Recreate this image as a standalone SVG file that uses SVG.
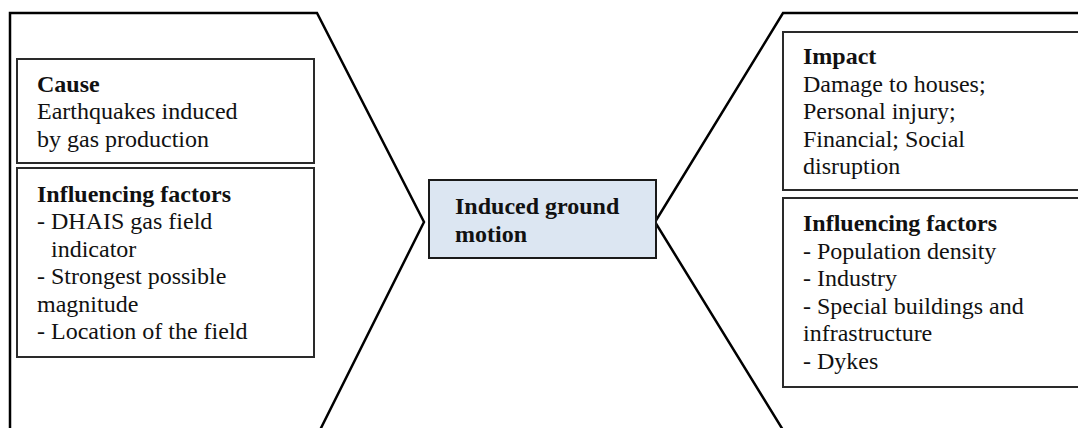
<svg xmlns="http://www.w3.org/2000/svg" width="1078" height="428" viewBox="0 0 1078 428">
<style>
.outer{fill:none;stroke:#000;stroke-width:2.5;stroke-linejoin:miter}
.box{fill:#fff;stroke:#2a2a2a;stroke-width:2}
.t{font-family:"Liberation Serif","Times New Roman",serif;font-size:24px;fill:#111}
.b{font-weight:bold}
</style>
<rect width="1078" height="428" fill="#fff"/>
<g id="connectors">
<polyline class="outer" points="10,430 10,13 317,13 424,222 320,430"/>
<polyline class="outer" points="1080,13 783,13 655,222 783,430"/>
</g>
<g id="cause">
<rect class="box" x="17" y="59" width="297" height="104"/>
<text class="t b" x="37" y="92">Cause</text>
<text class="t" x="37" y="119.4">Earthquakes induced</text>
<text class="t" x="37" y="146.8">by gas production</text>
</g>
<g id="cause-factors">
<rect class="box" x="17" y="168" width="297" height="189"/>
<text class="t b" x="37" y="201.5">Influencing factors</text>
<text class="t" x="37" y="229">- DHAIS gas field</text>
<text class="t" x="51" y="256.5">indicator</text>
<text class="t" x="37" y="284">- Strongest possible</text>
<text class="t" x="37" y="311.5">magnitude</text>
<text class="t" x="37" y="339">- Location of the field</text>
</g>
<g id="center">
<rect x="429" y="180" width="227" height="78" fill="#dce6f2" stroke="#1a1a1a" stroke-width="2"/>
<text class="t b" x="455" y="214">Induced ground</text>
<text class="t b" x="455" y="242">motion</text>
</g>
<g id="impact">
<rect class="box" x="783" y="32" width="310" height="158"/>
<text class="t b" x="803" y="64">Impact</text>
<text class="t" x="803" y="91.5">Damage to houses;</text>
<text class="t" x="803" y="119">Personal injury;</text>
<text class="t" x="803" y="146.5">Financial; Social</text>
<text class="t" x="803" y="174">disruption</text>
</g>
<g id="impact-factors">
<rect class="box" x="783" y="198" width="310" height="189"/>
<text class="t b" x="803" y="231">Influencing factors</text>
<text class="t" x="803" y="258.5">- Population density</text>
<text class="t" x="803" y="286">- Industry</text>
<text class="t" x="803" y="313.5">- Special buildings and</text>
<text class="t" x="803" y="341">infrastructure</text>
<text class="t" x="803" y="368.5">- Dykes</text>
</g>
</svg>
